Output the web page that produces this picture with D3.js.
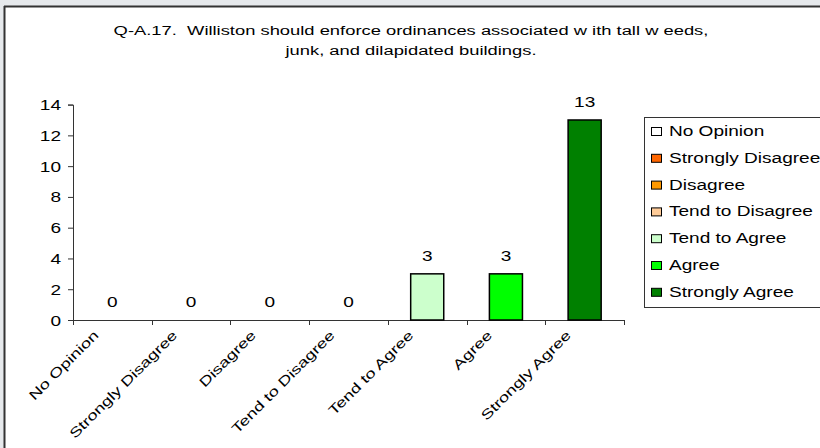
<!DOCTYPE html>
<html><head><meta charset="utf-8">
<script src="https://cdn.jsdelivr.net/npm/d3@7"></script>
<style>
html,body{margin:0;padding:0;background:#e6e9ec;}
svg{display:block;}
text{font-family:"Liberation Sans",Arial,sans-serif;fill:#000;}
</style></head>
<body>
<script>
const categories = ["No Opinion","Strongly Disagree","Disagree","Tend to Disagree","Tend to Agree","Agree","Strongly Agree"];
const values = [0,0,0,0,3,3,13];
const colors = ["#ffffff","#ff6600","#ff9900","#ffcc99","#ccffcc","#00ff00","#008000"];
const yTicks = [0,2,4,6,8,10,12,14];
const titleLines = ["Q-A.17.  Williston should enforce ordinances associated w ith tall w eeds,","junk, and dilapidated buildings."];

const W = 820, H = 448, K = 1.36; // horizontal text stretch
const svg = d3.select("body").append("svg").attr("width", W).attr("height", H);

svg.append("rect").attr("x",0).attr("y",0).attr("width",W).attr("height",H).attr("fill","#e6e9ec");
svg.append("rect").attr("x",4).attr("y",6).attr("width",W).attr("height",H).attr("fill","#fff");
svg.append("line").attr("x1",4.5).attr("x2",4.5).attr("y1",6).attr("y2",H).attr("stroke","#333").attr("stroke-width",2);
svg.append("line").attr("x1",4).attr("x2",W).attr("y1",6.5).attr("y2",6.5).attr("stroke","#333").attr("stroke-width",2);

// title
svg.append("g").selectAll("text").data(titleLines).join("text")
  .attr("transform",(d,i)=>`translate(411,${35+i*20}) scale(${K},1)`)
  .attr("text-anchor","middle").attr("font-size",13.5).style("white-space","pre").text(d=>d);

const x0 = 73, x1 = 624, yBase = 320, yTop = 104.6;
const x = d3.scaleBand().domain(categories).range([x0,x1]).paddingInner(0.58).paddingOuter(0.29);
const xt = d3.scaleBand().domain(categories).range([x0,x1]);
const y = d3.scaleLinear().domain([0,14]).range([yBase,yTop]);

// y axis
const ya = svg.append("g").attr("transform",`translate(${x0},0)`)
  .call(d3.axisLeft(y).tickValues(yTicks).tickSize(5));
ya.select(".domain").attr("stroke","#333");
ya.selectAll(".tick line").attr("stroke","#333");
ya.selectAll(".tick text").attr("x",null).attr("dy","0.36em")
  .attr("transform",`translate(-12,0) scale(${K},1)`)
  .attr("font-size",14).attr("font-family","Liberation Sans, Arial, sans-serif").attr("fill","#000");

// x axis line + ticks at band boundaries
const xa = svg.append("g");
xa.append("line").attr("x1",x0).attr("x2",x1).attr("y1",yBase+0.5).attr("y2",yBase+0.5).attr("stroke","#333");
xa.selectAll("line.tk").data(categories.map(c=>xt(c)).concat([x1])).join("line").attr("class","tk")
  .attr("x1",d=>Math.round(d)+0.5).attr("x2",d=>Math.round(d)+0.5).attr("y1",yBase).attr("y2",yBase+5).attr("stroke","#333");
xa.selectAll("text").data(categories).join("text")
  .attr("text-anchor","end").attr("font-size",13.5)
  .attr("transform",d=>`translate(${xt(d)+xt.bandwidth()/2-13},${yBase+16}) rotate(-45) scale(${K},1)`)
  .text(d=>d);

// bars
svg.append("g").selectAll("rect").data(categories.map((c,i)=>({c,v:values[i],col:colors[i]})).filter(d=>d.v>0)).join("rect")
  .attr("x",d=>x(d.c)).attr("width",x.bandwidth())
  .attr("y",d=>y(d.v)).attr("height",d=>y(0)-y(d.v))
  .attr("fill",d=>d.col).attr("stroke","#000").attr("stroke-width",1.5);

// value labels
svg.append("g").selectAll("text").data(categories.map((c,i)=>({c,v:values[i]}))).join("text")
  .attr("transform",d=>`translate(${xt(d.c)+xt.bandwidth()/2},${y(d.v)-13}) scale(${K},1)`)
  .attr("text-anchor","middle").attr("font-size",14).text(d=>d.v);

// legend
const lg = svg.append("g");
lg.append("rect").attr("x",644.5).attr("y",117.5).attr("width",200).attr("height",190).attr("fill","#fff").attr("stroke","#333");
const li = lg.selectAll("g").data(categories).join("g")
  .attr("transform",(d,i)=>`translate(651,${131+i*26.8})`);
li.append("rect").attr("x",0.5).attr("y",-3.5).attr("width",10).attr("height",8).attr("fill",(d,i)=>colors[i]).attr("stroke","#000");
li.append("text").attr("transform",`translate(18,5) scale(${K},1)`).attr("font-size",14).text(d=>d);
</script>
</body></html>
